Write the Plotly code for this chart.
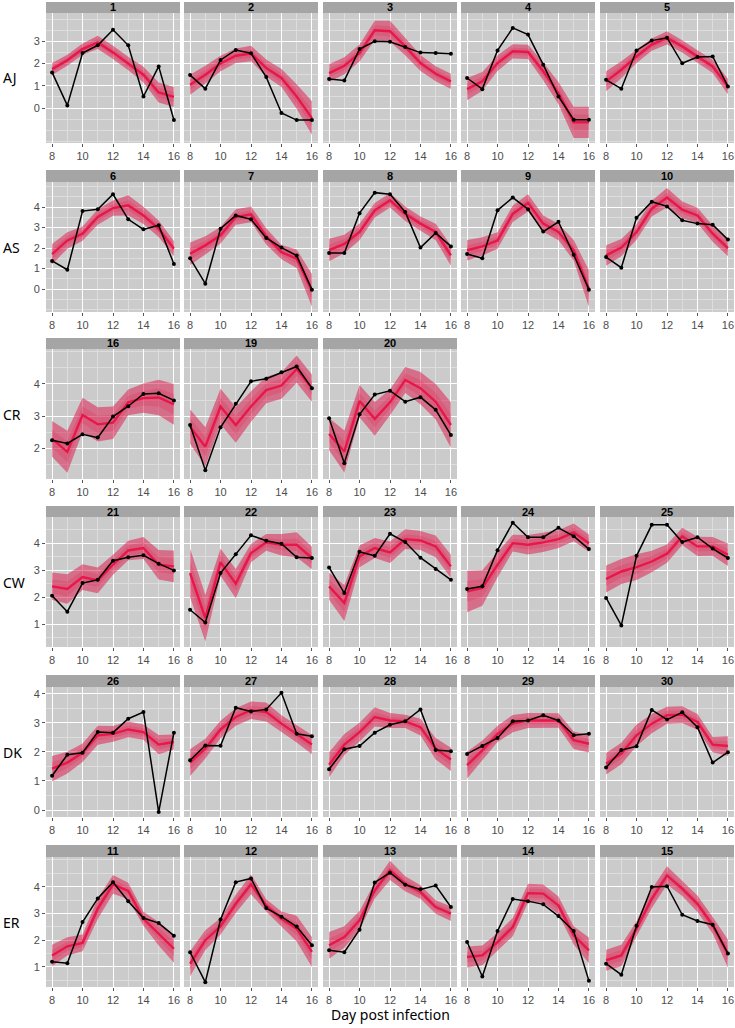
import math
import plotly.graph_objects as go

DAYS = [8, 9, 10, 11, 12, 13, 14, 15, 16]
ROW_LABELS = ["AJ", "AS", "CR", "CW", "DK", "ER"]
PANEL_IDS = [[1, 2, 3, 4, 5], [6, 7, 8, 9, 10], [16, 19, 20],
             [21, 22, 23, 24, 25], [26, 27, 28, 29, 30], [11, 12, 13, 14, 15]]
Y_TICKS = [[0, 1, 2, 3], [0, 1, 2, 3, 4], [2, 3, 4], [1, 2, 3, 4], [0, 1, 2, 3, 4], [1, 2, 3, 4]]
Y_RANGES = [[-1.57, 4.27], [-1.12, 5.22], [1.06, 5.08], [0.16, 4.98], [-0.24, 4.23], [0.25, 5.11]]
X_TICKS = [8, 10, 12, 14, 16]

# observed (black), model mean (red line), band half-width
OBS_AJ = [[1.60, 0.12, 2.47, 2.82, 3.52, 2.82, 0.52, 1.87, -0.54],
          [1.48, 0.87, 2.16, 2.61, 2.46, 1.39, -0.22, -0.54, -0.54],
          [1.30, 1.24, 2.65, 3.00, 2.98, 2.74, 2.49, 2.47, 2.44],
          [1.35, 0.85, 2.59, 3.60, 3.30, 1.95, 0.52, -0.52, -0.52],
          [1.27, 0.87, 2.59, 3.03, 3.16, 2.01, 2.29, 2.32, 0.97]]
MEAN_AJ = [[1.75, 2.15, 2.65, 2.95, 2.50, 2.00, 1.50, 0.70, 0.50],
           [1.05, 1.50, 2.00, 2.35, 2.45, 1.80, 1.35, 0.52, -0.45],
           [1.57, 1.90, 2.47, 3.49, 3.45, 2.77, 2.02, 1.54, 1.20],
           [0.85, 1.20, 2.02, 2.55, 2.52, 1.65, 0.67, -0.64, -0.64],
           [1.20, 1.72, 2.32, 2.85, 3.15, 2.77, 2.32, 1.87, 0.97]]
HW_AJ = [[0.27, 0.25, 0.25, 0.30, 0.30, 0.30, 0.35, 0.45, 0.45],
         [0.45, 0.40, 0.35, 0.33, 0.35, 0.38, 0.40, 0.55, 0.75],
         [0.40, 0.38, 0.38, 0.43, 0.47, 0.40, 0.36, 0.34, 0.34],
         [0.50, 0.42, 0.35, 0.32, 0.32, 0.40, 0.50, 0.70, 0.70],
         [0.45, 0.38, 0.30, 0.28, 0.30, 0.28, 0.28, 0.30, 0.35]]

OBS_AS = [[1.37, 0.94, 3.80, 3.89, 4.62, 3.40, 2.91, 3.11, 1.22],
          [1.50, 0.26, 2.94, 3.59, 3.40, 2.49, 2.02, 1.63, -0.03],
          [1.76, 1.76, 3.70, 4.70, 4.62, 3.76, 2.02, 2.73, 2.08],
          [1.71, 1.50, 3.84, 4.46, 3.89, 2.80, 3.28, 1.67, -0.03],
          [1.56, 1.04, 3.48, 4.26, 4.03, 3.35, 3.19, 3.14, 2.41]]
MEAN_AS = [[1.70, 2.37, 2.70, 3.51, 3.95, 4.08, 3.59, 2.94, 1.97],
           [1.72, 2.13, 2.62, 3.51, 3.64, 2.57, 1.80, 1.48, -0.07],
           [1.90, 2.20, 2.78, 3.84, 4.33, 3.67, 3.19, 2.78, 1.64],
           [1.89, 2.08, 2.37, 3.67, 4.20, 3.19, 2.78, 1.89, 0.02],
           [1.64, 2.02, 2.78, 3.92, 4.46, 3.87, 3.59, 2.70, 2.00]]
HW_AS = [[0.50, 0.40, 0.35, 0.38, 0.37, 0.49, 0.42, 0.40, 0.37],
         [0.55, 0.45, 0.40, 0.38, 0.38, 0.40, 0.35, 0.45, 0.80],
         [0.55, 0.45, 0.40, 0.35, 0.35, 0.35, 0.35, 0.40, 0.50],
         [0.50, 0.45, 0.40, 0.40, 0.42, 0.40, 0.40, 0.50, 0.90],
         [0.50, 0.42, 0.38, 0.38, 0.47, 0.40, 0.38, 0.40, 0.40]]

OBS_CR = [[2.26, 2.16, 2.44, 2.34, 2.99, 3.31, 3.69, 3.71, 3.49],
          [2.73, 1.33, 2.66, 3.39, 4.08, 4.16, 4.36, 4.54, 3.87],
          [2.94, 1.55, 3.06, 3.67, 3.79, 3.45, 3.59, 3.20, 2.42]]
MEAN_CR = [[2.30, 1.90, 3.04, 2.75, 2.80, 3.43, 3.56, 3.58, 3.37],
           [2.68, 2.06, 3.30, 2.73, 3.30, 3.81, 3.95, 4.46, 3.87],
           [2.45, 1.91, 3.47, 2.92, 3.43, 4.12, 3.87, 3.45, 2.73]]
HW_CR = [[0.55, 0.65, 0.53, 0.53, 0.50, 0.40, 0.45, 0.55, 0.63],
         [0.53, 0.60, 0.55, 0.55, 0.47, 0.41, 0.41, 0.42, 0.42],
         [0.50, 0.65, 0.50, 0.52, 0.40, 0.40, 0.50, 0.55, 0.70]]

OBS_CW = [[2.06, 1.47, 2.53, 2.65, 3.36, 3.49, 3.56, 3.25, 3.00],
          [1.54, 1.07, 2.90, 3.60, 4.30, 4.10, 3.99, 3.49, 3.46],
          [3.11, 2.16, 3.69, 3.54, 4.36, 4.05, 3.47, 3.05, 2.65],
          [2.31, 2.41, 3.75, 4.77, 4.23, 4.23, 4.58, 4.27, 3.79],
          [1.98, 0.96, 3.54, 4.69, 4.69, 4.05, 4.23, 3.81, 3.46]]
MEAN_CW = [[2.41, 2.31, 2.75, 2.63, 3.21, 3.74, 3.83, 3.21, 3.15],
           [2.90, 1.23, 3.30, 2.51, 3.64, 4.04, 3.95, 3.95, 3.46],
           [2.41, 1.79, 3.52, 3.83, 3.67, 4.16, 4.11, 3.89, 3.15],
           [2.22, 2.35, 3.21, 4.01, 3.95, 4.04, 4.16, 4.41, 4.01],
           [2.68, 2.96, 3.12, 3.33, 3.62, 4.26, 3.89, 3.89, 3.58]]
HW_CW = [[0.51, 0.55, 0.48, 0.48, 0.37, 0.36, 0.41, 0.55, 0.59],
         [0.90, 0.87, 0.50, 0.54, 0.34, 0.31, 0.40, 0.46, 0.42],
         [0.50, 0.67, 0.40, 0.37, 0.40, 0.37, 0.35, 0.40, 0.43],
         [0.77, 0.66, 0.46, 0.31, 0.36, 0.36, 0.33, 0.33, 0.32],
         [0.50, 0.46, 0.48, 0.40, 0.34, 0.32, 0.36, 0.35, 0.42]]

OBS_DK = [[1.18, 1.90, 1.97, 2.68, 2.66, 3.14, 3.37, -0.07, 2.66],
          [1.71, 2.22, 2.21, 3.52, 3.39, 3.46, 4.03, 2.62, 2.54],
          [1.40, 2.09, 2.20, 2.66, 2.93, 3.05, 3.46, 2.06, 2.02],
          [1.93, 2.20, 2.48, 3.05, 3.08, 3.26, 3.08, 2.57, 2.62],
          [1.46, 2.06, 2.19, 3.44, 3.11, 3.36, 2.85, 1.63, 1.99]]
MEAN_DK = [[1.42, 1.63, 1.97, 2.57, 2.62, 2.77, 2.68, 2.25, 2.34],
           [1.63, 2.11, 2.77, 3.20, 3.43, 3.37, 2.97, 2.62, 2.25],
           [1.56, 2.25, 2.68, 3.20, 3.08, 3.05, 2.85, 2.11, 1.74],
           [1.54, 2.05, 2.62, 2.97, 3.08, 3.08, 3.08, 2.40, 2.28],
           [1.59, 1.94, 2.57, 2.97, 3.26, 3.28, 3.03, 2.25, 2.20]]
HW_DK = [[0.44, 0.37, 0.32, 0.33, 0.27, 0.27, 0.26, 0.33, 0.26],
         [0.46, 0.34, 0.30, 0.30, 0.30, 0.33, 0.29, 0.30, 0.33],
         [0.43, 0.36, 0.32, 0.33, 0.26, 0.23, 0.29, 0.37, 0.40],
         [0.46, 0.34, 0.28, 0.30, 0.26, 0.25, 0.25, 0.30, 0.30],
         [0.37, 0.37, 0.37, 0.33, 0.29, 0.29, 0.27, 0.26, 0.34]]

OBS_ER = [[1.19, 1.14, 2.68, 3.56, 4.17, 3.46, 2.83, 2.64, 2.17],
          [1.55, 0.43, 2.77, 4.17, 4.31, 3.20, 2.88, 2.51, 1.81],
          [1.62, 1.55, 2.39, 4.16, 4.52, 4.07, 3.90, 4.04, 3.24],
          [1.93, 0.64, 2.34, 3.54, 3.46, 3.34, 2.90, 2.34, 0.48],
          [1.12, 0.71, 2.54, 3.99, 4.02, 2.95, 2.72, 2.58, 1.50]]
MEAN_ER = [[1.43, 1.77, 1.90, 3.18, 4.09, 3.84, 2.80, 2.24, 1.68],
           [1.12, 2.00, 2.52, 3.36, 4.09, 3.30, 2.80, 2.43, 1.56],
           [1.81, 2.12, 2.74, 3.86, 4.61, 4.11, 3.80, 3.24, 2.99],
           [1.37, 1.43, 1.93, 2.49, 3.76, 3.74, 3.30, 2.18, 1.62],
           [1.25, 1.43, 2.43, 3.55, 4.42, 3.93, 3.36, 2.56, 1.50]]
HW_ER = [[0.40, 0.34, 0.31, 0.39, 0.35, 0.31, 0.26, 0.44, 0.52],
         [0.47, 0.37, 0.31, 0.34, 0.37, 0.23, 0.27, 0.48, 0.56],
         [0.50, 0.40, 0.35, 0.30, 0.36, 0.28, 0.25, 0.25, 0.27],
         [0.39, 0.37, 0.34, 0.34, 0.35, 0.34, 0.33, 0.34, 0.48],
         [0.39, 0.40, 0.28, 0.35, 0.34, 0.28, 0.31, 0.31, 0.53]]

OBS = [OBS_AJ, OBS_AS, OBS_CR, OBS_CW, OBS_DK, OBS_ER]
MEAN = [MEAN_AJ, MEAN_AS, MEAN_CR, MEAN_CW, MEAN_DK, MEAN_ER]
HW = [HW_AJ, HW_AS, HW_CR, HW_CW, HW_DK, HW_ER]

# ---- layout geometry (pixels) ----
W, H = 735, 1028
COL_X = [(46, 180), (184, 318), (323, 457), (461, 595), (600, 734)]
ROW_Y = [(2, 13, 143), (170, 182, 312), (338, 349, 479), (506, 517, 647), (675, 687, 817), (845, 857, 987)]

PANEL_BG = "#cbcbcb"
STRIP_BG = "#a5a5a5"
OUTER = "rgba(222,25,75,0.52)"
INNER = "rgba(222,25,75,0.20)"
MEANC = "#e8174a"
TICKFONT = dict(family="Liberation Sans, Arial, sans-serif", size=11, color="#4d4d4d")
LABFONT = "Noto Sans, Open Sans, sans-serif"


def px(x):
    return x / W


def py(y):
    return 1 - y / H


fig = go.Figure()
layout = {}
shapes = []
annotations = []
k = 0
for r, ids in enumerate(PANEL_IDS):
    st, top, bot = ROW_Y[r]
    ymin, ymax = Y_RANGES[r]
    minor_vals = [v / 2 for v in range(math.ceil(ymin * 2), math.floor(ymax * 2) + 1)
                  if (v / 2) not in Y_TICKS[r]]
    for c, pid in enumerate(ids):
        k += 1
        x0, x1 = COL_X[c]
        xa = "x" if k == 1 else f"x{k}"
        ya = "y" if k == 1 else f"y{k}"
        obs = OBS[r][c]
        mean = MEAN[r][c]
        hw = HW[r][c]
        up = [m + h for m, h in zip(mean, hw)]
        lo = [m - h for m, h in zip(mean, hw)]
        up2 = [m + 0.5 * h for m, h in zip(mean, hw)]
        lo2 = [m - 0.5 * h for m, h in zip(mean, hw)]
        fig.add_trace(go.Scatter(x=DAYS + DAYS[::-1], y=up + lo[::-1], fill="toself",
                                 fillcolor=OUTER, line=dict(width=0), mode="lines",
                                 hoverinfo="skip", showlegend=False, xaxis=xa, yaxis=ya))
        fig.add_trace(go.Scatter(x=DAYS + DAYS[::-1], y=up2 + lo2[::-1], fill="toself",
                                 fillcolor=INNER, line=dict(width=0), mode="lines",
                                 hoverinfo="skip", showlegend=False, xaxis=xa, yaxis=ya))
        fig.add_trace(go.Scatter(x=DAYS, y=mean, mode="lines",
                                 line=dict(color=MEANC, width=2.4),
                                 showlegend=False, xaxis=xa, yaxis=ya))
        fig.add_trace(go.Scatter(x=DAYS, y=obs, mode="lines+markers",
                                 line=dict(color="black", width=1.5),
                                 marker=dict(color="black", size=4),
                                 showlegend=False, xaxis=xa, yaxis=ya))
        xname = "xaxis" if k == 1 else f"xaxis{k}"
        yname = "yaxis" if k == 1 else f"yaxis{k}"
        layout[xname] = dict(
            domain=[px(x0), px(x1)], anchor=ya, range=[7.6, 16.4],
            tickmode="array", tickvals=X_TICKS, ticks="outside", ticklen=3,
            tickcolor="#555555", tickwidth=1, tickfont=TICKFONT,
            ticklabeloverflow="allow",
            showgrid=True, gridcolor="white", gridwidth=1.2, zeroline=False,
            showline=False, fixedrange=True,
            minor=dict(tickmode="array", tickvals=[9, 11, 13, 15], showgrid=True,
                       gridcolor="#dddddd", gridwidth=0.6, ticks=""),
        )
        layout[yname] = dict(
            domain=[py(bot), py(top)], anchor=xa, range=[ymin, ymax],
            tickmode="array", tickvals=Y_TICKS[r],
            showticklabels=(c == 0), ticks="outside" if c == 0 else "",
            ticklen=3, tickcolor="#555555", tickwidth=1, tickfont=TICKFONT,
            showgrid=True, gridcolor="white", gridwidth=1.2, zeroline=False,
            showline=False, fixedrange=True,
            minor=dict(tickmode="array", tickvals=minor_vals, showgrid=True,
                       gridcolor="#dddddd", gridwidth=0.6, ticks=""),
        )
        shapes.append(dict(type="rect", xref="paper", yref="paper",
                           x0=px(x0), x1=px(x1), y0=py(top), y1=py(st),
                           fillcolor=STRIP_BG, line=dict(width=0), layer="below"))
        annotations.append(dict(xref="paper", yref="paper", x=px((x0 + x1) / 2),
                                y=py((st + top) / 2), text=f"<b>{pid}</b>", showarrow=False,
                                xanchor="center", yanchor="middle",
                                font=dict(family="Liberation Sans, Arial, sans-serif",
                                          size=11, color="black")))
    annotations.append(dict(xref="paper", yref="paper", x=px(1), y=py((top + bot) / 2),
                            text=ROW_LABELS[r], showarrow=False, xanchor="left",
                            yanchor="middle",
                            font=dict(family=LABFONT, size=14, color="black")))

annotations.append(dict(xref="paper", yref="paper", x=px(390), y=py(1014),
                        text="Day post infection", showarrow=False, xanchor="center",
                        yanchor="middle", font=dict(family=LABFONT, size=14, color="black")))

fig.update_layout(width=W, height=H, margin=dict(l=0, r=0, t=0, b=0),
                  paper_bgcolor="white", plot_bgcolor=PANEL_BG,
                  shapes=shapes, annotations=annotations, showlegend=False, **layout)
fig.write_html("out.html", config={"displayModeBar": False},
               post_script="document.body.style.margin='0';document.body.style.padding='0';")
